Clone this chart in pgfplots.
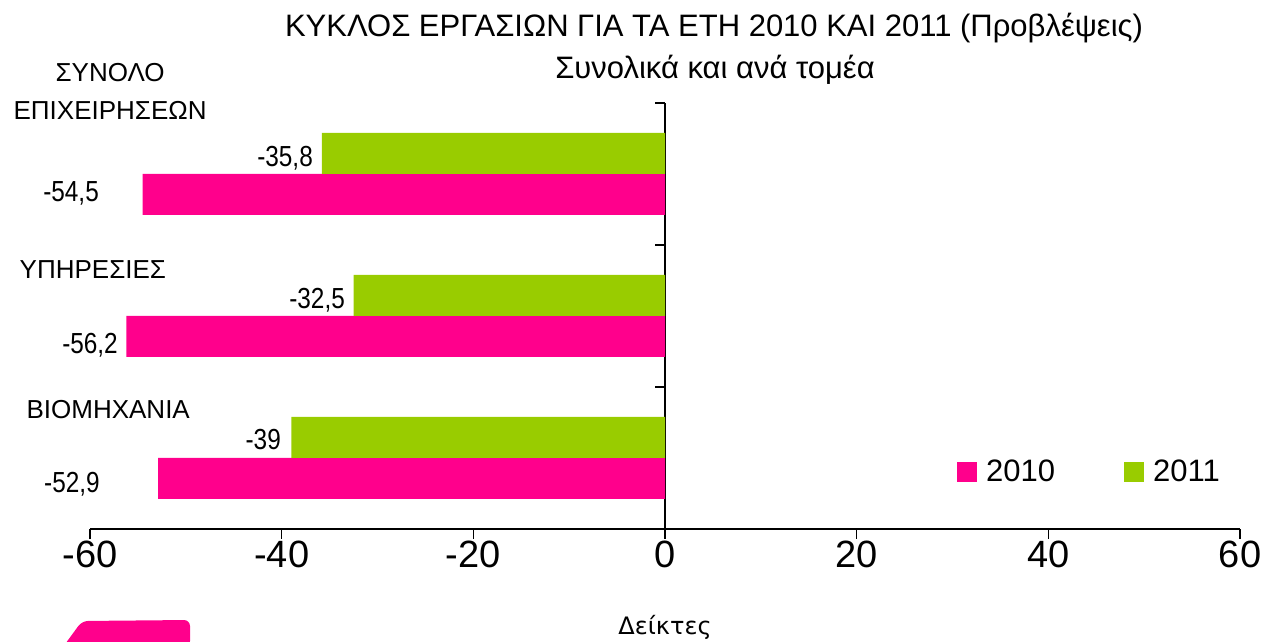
\documentclass[border=0pt]{standalone}
\usepackage{pgfplots}
\pgfplotsset{compat=1.18}
\usepackage{pgfplotstable}
\usepackage{graphicx}
\usepackage{fontspec}
\setmainfont{Liberation Sans}
\newfontfamily\dejavu{DejaVu Sans}
\definecolor{pinkbar}{RGB}{255,0,140}
\definecolor{greenbar}{RGB}{153,204,0}
\pgfplotstableread{
y v2010 v2011
0 -52.9 -39
1 -56.2 -32.5
2 -54.5 -35.8
}\datatable
\newcommand\vl[1]{\scalebox{0.84}[1]{#1}}
\begin{document}
\begin{tikzpicture}[x=1pt,y=1pt]
\useasboundingbox (0,0) rectangle (1261,642);
\begin{axis}[
  at={(90pt,113pt)}, anchor=south west,
  scale only axis, width=1150pt, height=426pt,
  xmin=-60, xmax=60, ymin=-0.5, ymax=2.5,
  axis x line*=bottom, axis y line*=center,
  axis line style={black, line width=1.5pt, -},
  tick align=outside, major tick length=10pt,
  tick style={black, line width=1.5pt},
  xtick={-60,-40,...,60},
  ytick={-0.5,0.5,1.5,2.5}, yticklabels={},
  /pgf/number format/assume math mode=true,
  xticklabel style={font=\fontsize{38}{42}\selectfont, inner sep=0pt, yshift=-2pt},
  clip=false,
  legend style={draw=none, fill=none, at={(0.869,0.134)}, anchor=center,
    font=\fontsize{31}{36}\selectfont,
    /tikz/every even column/.append style={column sep=67pt}},
  legend columns=2,
  legend image code/.code={\fill[#1,/tikz/.cd] (0pt,-10pt) rectangle (20pt,10pt); \path (27pt,0pt);},
]
\addplot[xbar, fill=pinkbar, draw=none, bar width=41pt, bar shift=-20.5pt] table[x=v2010,y=y]{\datatable};
\addplot[xbar, fill=greenbar, draw=none, bar width=41pt, bar shift=20.5pt] table[x=v2011,y=y]{\datatable};
\legend{2010,2011}
% value labels
\begin{scope}[every node/.style={font=\fontsize{29}{32}\selectfont, anchor=base east, inner sep=0pt}]
\node at (axis cs:-36.73,2.056) {\vl{-35,8}};
\node at (axis cs:-59.06,1.803) {\vl{-54,5}};
\node at (axis cs:-33.39,1.056) {\vl{-32,5}};
\node at (axis cs:-57.08,0.739) {\vl{-56,2}};
\node at (axis cs:-40.07,0.063) {\vl{-39}};
\node at (axis cs:-58.96,-0.246) {\vl{-52,9}};
\end{scope}
% category labels
\begin{scope}[every node/.style={font=\fontsize{26}{38}\selectfont, align=center, inner sep=0pt}]
\node at (axis cs:-57.9,2.58) {ΣΥΝΟΛΟ\\ΕΠΙΧΕΙΡΗΣΕΩΝ};
\node at (axis cs:-59.7,1.324) {ΥΠΗΡΕΣΙΕΣ};
\node at (axis cs:-58.1,0.338) {ΒΙΟΜΗΧΑΝΙΑ};
\end{scope}
\end{axis}
\node[font=\fontsize{31}{36}\selectfont, anchor=base] at (714,605) {ΚΥΚΛΟΣ ΕΡΓΑΣΙΩΝ ΓΙΑ ΤΑ ΕΤΗ 2010 ΚΑΙ 2011 (Προβλέψεις)};
\node[font=\fontsize{31}{36}\selectfont] at (715,572) {Συνολικά και ανά τομέα};
\node[font=\dejavu\fontsize{24}{28}\selectfont] at (665,15) {Δείκτες};
\fill[pinkbar, rounded corners=6pt] (63,-5) -- (82,21) -- (190,22) -- (190,-5) -- cycle;
\end{tikzpicture}
\end{document}
